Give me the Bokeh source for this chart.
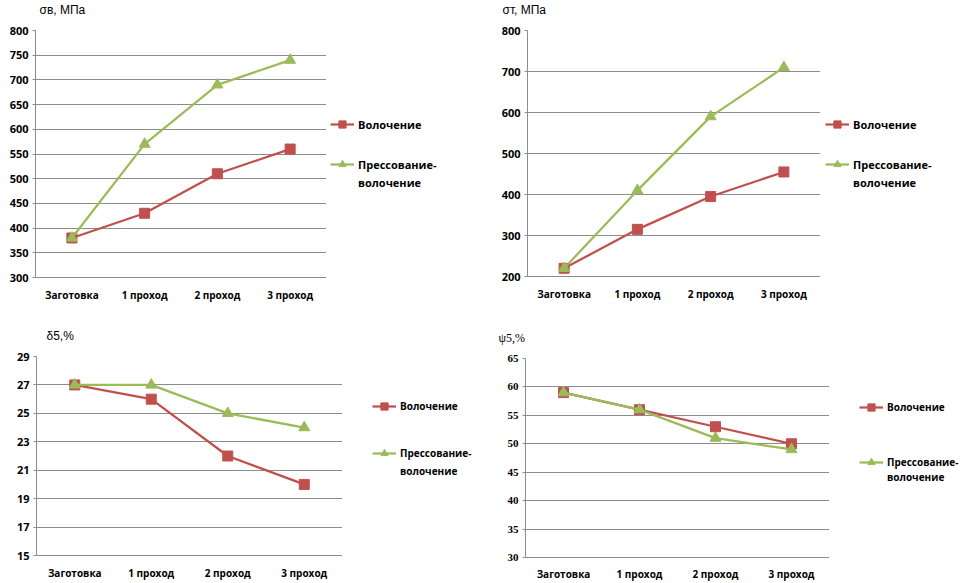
from bokeh.plotting import figure
from bokeh.models import FactorRange, Legend, LegendItem, FixedTicker, Title
from bokeh.layouts import column, row
from bokeh.embed import file_html
from bokeh.resources import INLINE

categories = ["Заготовка", "1 проход", "2 проход", "3 проход"]
series_names = ["Волочение", "Прессование-", "волочение"]

sigma_b_drawing = [380, 430, 510, 560]
sigma_b_press = [380, 570, 690, 740]
sigma_b_ticks = [300, 350, 400, 450, 500, 550, 600, 650, 700, 750, 800]

sigma_t_drawing = [220, 315, 395, 455]
sigma_t_press = [220, 410, 590, 710]
sigma_t_ticks = [200, 300, 400, 500, 600, 700, 800]

delta_drawing = [27, 26, 22, 20]
delta_press = [27, 27, 25, 24]
delta_ticks = [15, 17, 19, 21, 23, 25, 27, 29]

psi_drawing = [59, 56, 53, 50]
psi_press = [59, 56, 51, 49]
psi_ticks = [30, 35, 40, 45, 50, 55, 60, 65]

RED = "#C0504D"
GREEN = "#9BBB59"
GRID = "#8C8C8C"
NAN = float("nan")


def add_series(p, xs, vals, color, marker, size, alpha=1.0):
    r = p.line(xs, vals, line_color=color, line_width=2.25, line_alpha=alpha)
    m = p.scatter(xs, vals, marker=marker, size=size, fill_color=color,
                  line_color=color, fill_alpha=alpha, line_alpha=alpha)
    return r, m


def make_chart(title, ylo, yhi, ticks, red_vals, green_vals, w, h, borders,
               title_off, tick_font, title_font, xstandoff,
               lw, lx, leg_ys, leg_font):
    bl, bt, bb = borders
    p = figure(x_range=FactorRange(*categories, range_padding=0),
               y_range=(ylo, yhi), width=w, height=h,
               output_backend="svg", toolbar_location=None,
               min_border_left=bl, min_border_right=0,
               min_border_top=bt, min_border_bottom=bb)
    p.outline_line_color = None
    p.xgrid.grid_line_color = None
    p.ygrid.grid_line_color = GRID
    p.ygrid.grid_line_width = 1
    p.yaxis.ticker = FixedTicker(ticks=ticks)
    p.yaxis.axis_line_color = GRID
    p.yaxis.major_tick_line_color = GRID
    p.yaxis.major_tick_out = 3
    p.yaxis.major_tick_in = 0
    p.yaxis.minor_tick_line_color = None
    p.yaxis.major_label_text_font = tick_font
    p.yaxis.major_label_text_font_style = "bold"
    p.yaxis.major_label_text_font_size = "11px"
    p.yaxis.major_label_text_color = "black"
    p.yaxis.major_label_standoff = 4
    p.xaxis.axis_line_color = GRID
    p.xaxis.major_tick_line_color = None
    p.xaxis.major_label_text_font = "Open Sans"
    p.xaxis.major_label_text_font_style = "bold"
    p.xaxis.major_label_text_font_size = "10px"
    p.xaxis.major_label_text_color = "black"
    p.xaxis.major_label_standoff = xstandoff

    t = Title(text=title + "\n ", align="left", offset=title_off,
              text_font=title_font, text_font_style="normal",
              text_font_size="12px", text_color="black", standoff=0)
    p.add_layout(t, "above")

    add_series(p, categories, red_vals, RED, "square", 10)
    add_series(p, categories, green_vals, GREEN, "triangle", 11)

    # legend panel beside the chart (its renderers hold no visible data)
    lp = figure(width=lw, height=h, x_range=(0, 1), y_range=(0, 1),
                x_axis_type=None, y_axis_type=None,
                output_backend="svg", toolbar_location=None,
                min_border=0)
    lp.outline_line_color = None
    lp.grid.visible = False
    r1, m1 = add_series(lp, [NAN], [NAN], RED, "square", 10)
    r2, m2 = add_series(lp, [NAN], [NAN], GREEN, "triangle", 11)
    r3, m3 = add_series(lp, [NAN], [NAN], GREEN, "triangle", 11, alpha=0.0)
    common = dict(margin=0, padding=0, glyph_width=24, glyph_height=18,
                  label_height=18, label_standoff=4, label_text_font="Open Sans",
                  label_text_font_style="bold", label_text_font_size=leg_font,
                  label_text_color="black",
                  border_line_color=None, background_fill_alpha=0)
    for name, rends, vy in zip(series_names, [[r1, m1], [r2, m2], [r3, m3]], leg_ys):
        lg = Legend(items=[LegendItem(label=name, renderers=rends)],
                    location=(lx, vy), **common)
        lp.add_layout(lg)
    return row(p, lp)


c1 = make_chart("σв, МПа", 300, 800, sigma_b_ticks, sigma_b_drawing, sigma_b_press,
                326, 318, (35, 29, 41), 4, "Open Sans", "Liberation Sans", 4,
                154, 4, (144, 104, 86), "11px")
c2 = make_chart("σт, МПа", 200, 800, sigma_t_ticks, sigma_t_drawing, sigma_t_press,
                340, 318, (47, 29, 42), -25, "Open Sans", "Liberation Sans", 4,
                141, 5, (143, 103, 85), "11px")
c3 = make_chart("δ5,%", 15, 29, delta_ticks, delta_drawing, delta_press,
                342, 265, (36, 38, 28), 10, "Open Sans", "Liberation Sans", 4,
                138, 30, (140, 93, 75), "10px")
c4 = make_chart("ψ5,%", 30, 65, psi_ticks, psi_drawing, psi_press,
                349, 265, (45, 40, 25), -27, "Liberation Serif", "Liberation Serif", 3,
                132, 30, (141, 86, 71), "10px")

layout = column(row(c1, c2), row(c3, c4))
open("out.html", "w").write(file_html(layout, INLINE))
